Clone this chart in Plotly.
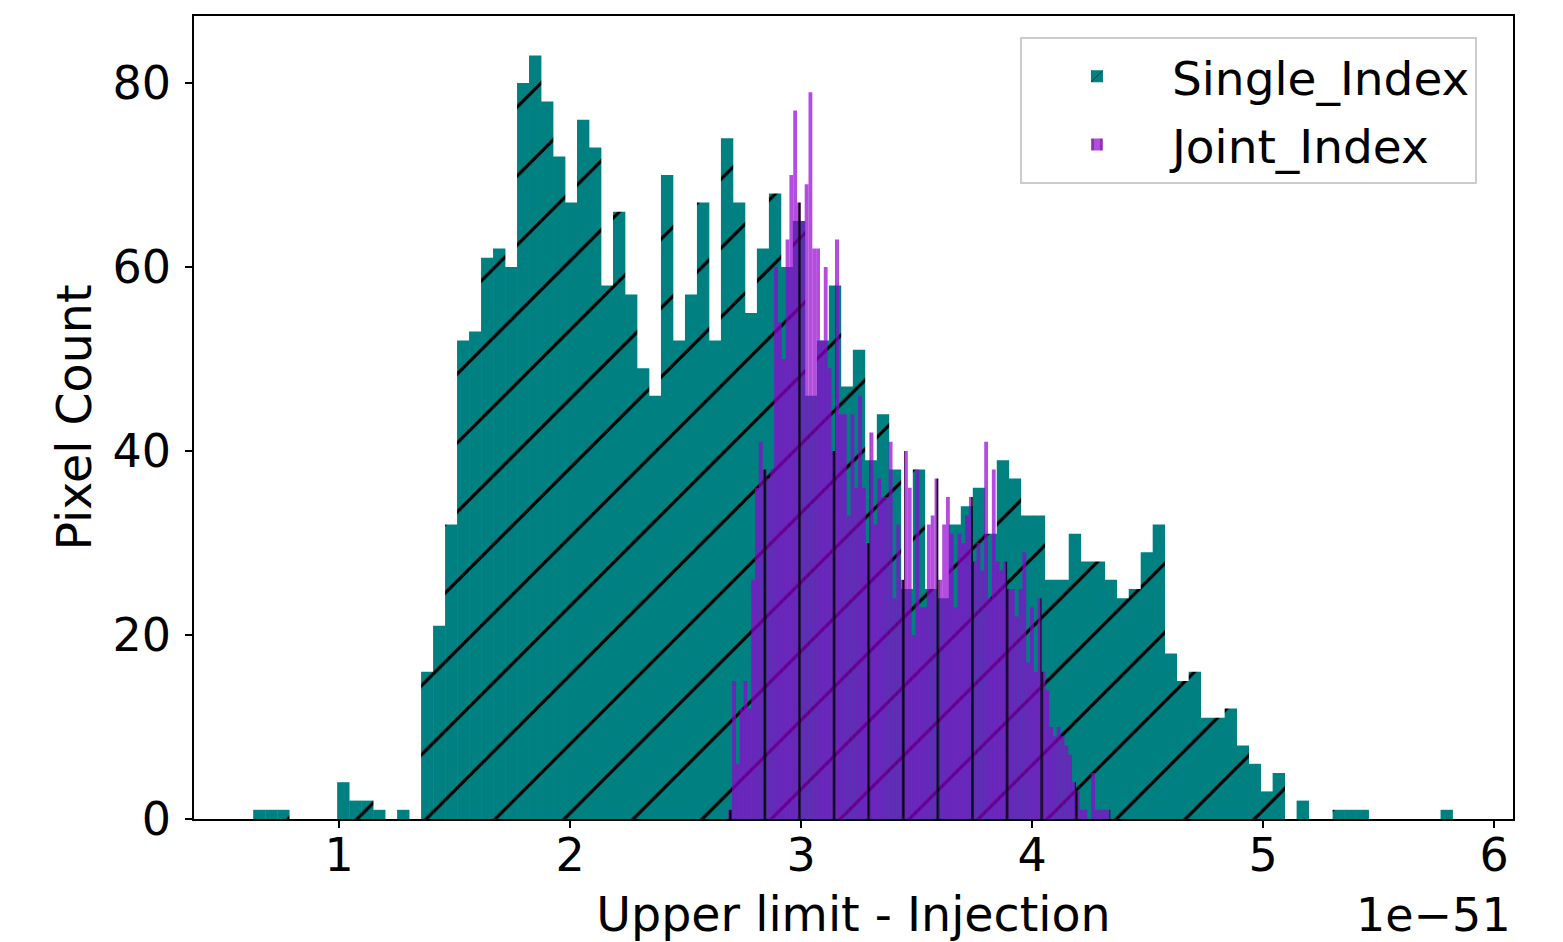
import numpy as np
import plotly.graph_objects as go

# ---- data (x in units of 1e-51) ----
single_range = (0.629, 5.821)   # histogram range, 100 bins
single_counts = [1, 1, 1, 0, 0, 0, 0, 4, 2, 2,
                 1, 0, 1, 0, 16, 21, 32, 52, 53, 61,
                 62, 60, 80, 83, 78, 72, 67, 76, 73, 58,
                 66, 57, 49, 46, 70, 52, 57, 67, 52, 74,
                 67, 55, 62, 68, 60, 65, 46, 52, 58, 47,
                 51, 39, 44, 38, 25, 38, 25, 24, 32, 34,
                 36, 31, 39, 37, 33, 33, 26, 26, 31, 28,
                 28, 26, 24, 25, 29, 32, 18, 15, 16, 11,
                 11, 12, 8, 6, 3, 5, 0, 2, 0, 0,
                 1, 1, 1, 0, 0, 0, 0, 0, 0, 1]

joint_range = (2.685, 4.3385)   # histogram range, 100 bins
joint_counts = [1, 15, 6, 12, 15, 12, 26, 36, 41, 38,
                37, 38, 60, 54, 50, 63, 70, 77, 67, 65,
                69, 79, 62, 62, 52, 60, 49, 40, 63, 44,
                44, 33, 44, 36, 46, 36, 30, 42, 32, 37,
                35, 35, 41, 24, 32, 26, 40, 36, 20, 38,
                23, 23, 32, 33, 37, 26, 32, 35, 31, 23,
                31, 30, 33, 35, 28, 30, 27, 41, 24, 38,
                28, 27, 28, 25, 25, 22, 25, 29, 17, 23,
                16, 24, 16, 14, 10, 9, 10, 9, 8, 7,
                4, 3, 1, 1, 0, 5, 1, 1, 1, 1]

x_ticks = [1, 2, 3, 4, 5, 6]
y_ticks = [0, 20, 40, 60, 80]
offset_label = "1e\u221251"
x_label = "Upper limit - Injection"
y_label = "Pixel Count"
series_names = ["Single_Index", "Joint_Index"]


def bins(rng, counts):
    edges = np.linspace(rng[0], rng[1], len(counts) + 1)
    centers = (edges[:-1] + edges[1:]) / 2
    return centers, edges[1] - edges[0]


s_x, s_w = bins(single_range, single_counts)
j_x, j_w = bins(joint_range, joint_counts)

FONT = "DejaVu Sans"
FS = 46
FS_TITLE = 47.5

TEAL = "#008080"
VIOLET = "rgba(148,0,211,0.7)"

fig = go.Figure()
fig.add_trace(go.Bar(
    x=s_x, y=single_counts, width=s_w * 1.03, name=series_names[0],
    legendgroup="a",
    marker=dict(color=TEAL, line=dict(width=0),
                pattern=dict(shape="/", fgcolor="black", fgopacity=1,
                             size=48.8, solidity=0.065)),
))
fig.add_trace(go.Bar(
    x=j_x, y=joint_counts, width=j_w, name=series_names[1],
    legendgroup="b",
    marker=dict(color=VIOLET, line=dict(width=0),
                pattern=dict(shape="|", fgcolor="black", fgopacity=1,
                             size=34.6, solidity=0.065)),
))

axis_common = dict(
    showline=True, linecolor="black", linewidth=1.6, mirror=True,
    ticks="outside", ticklen=7, tickwidth=1.6, tickcolor="black",
    showgrid=False, zeroline=False, automargin=False,
    tickfont=dict(family=FONT, size=FS, color="black"),
)

fig.update_layout(
    width=1563, height=942,
    margin=dict(l=194, r=50, t=16, b=123),
    paper_bgcolor="white", plot_bgcolor="white",
    barmode="overlay",
    font=dict(family=FONT, size=FS, color="black"),
    xaxis=dict(range=[0.372, 6.082], tickvals=x_ticks, ticklabelstandoff=-12,
               title=dict(text=x_label, font=dict(family=FONT, size=FS_TITLE), standoff=18),
               **axis_common),
    yaxis=dict(range=[0, 87.28], tickvals=y_ticks, ticklabelstandoff=5,
               title=dict(text=y_label, font=dict(family=FONT, size=FS_TITLE), standoff=6),
               **axis_common),
    legend=dict(x=0.6262, y=0.9735, xanchor="left", yanchor="top",
                bgcolor="rgba(255,255,255,0.8)", bordercolor="#cccccc", borderwidth=2,
                font=dict(family=FONT, size=47), itemwidth=140,
                traceorder="grouped", tracegroupgap=4),
    annotations=[dict(text=offset_label, xref="paper", yref="paper",
                      x=1.0, y=-0.12, xanchor="right", yanchor="middle",
                      showarrow=False, font=dict(family=FONT, size=FS))],
)

fig.write_html("out.html")
